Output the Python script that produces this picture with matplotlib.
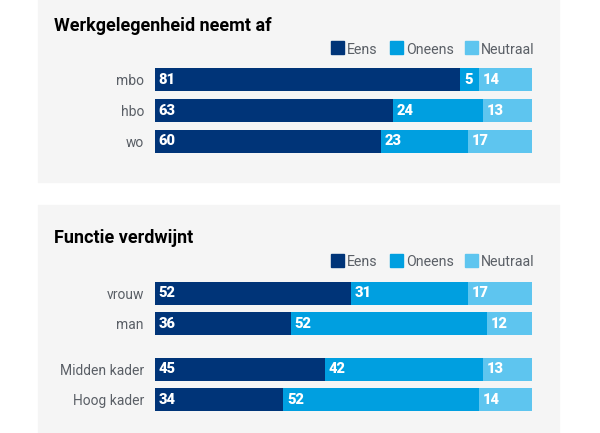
import matplotlib
matplotlib.use("Agg")

import matplotlib.pyplot as plt
from matplotlib.patches import Rectangle

plt.rcParams["font.family"] = ["Roboto", "DejaVu Sans"]

# data
series = ["Eens", "Oneens", "Neutraal"]
colors = ["#003478", "#009fe0", "#5ec5ef"]

werk_labels = ["mbo", "hbo", "wo"]
werk_eens = [81, 63, 60]
werk_oneens = [5, 24, 23]
werk_neutraal = [14, 13, 17]

functie_labels = ["vrouw", "man", "Midden kader", "Hoog kader"]
functie_pos = [0, 1, 2.5, 3.5]
functie_eens = [52, 36, 45, 34]
functie_oneens = [31, 52, 42, 52]
functie_neutraal = [17, 12, 13, 14]

W, H = 600, 433
BG = "#f5f5f5"
LABEL_COLOR = "#5a5f66"

fig = plt.figure(figsize=(W / 100, H / 100), dpi=100)


def fx(x):
    return x / W


def fy(y):
    return 1 - y / H


def panel(top, bottom):
    fig.patches.append(Rectangle((fx(38), fy(bottom)), fx(559) - fx(38), fy(top) - fy(bottom),
                                 transform=fig.transFigure, color=BG, zorder=-5))


def legend(y_top):
    xs = [331, 390, 465]
    for name, col, x in zip(series, colors, xs):
        fig.patches.append(Rectangle((fx(x), fy(y_top + 13)), 13 / W, 13 / H,
                                     transform=fig.transFigure, color=col, zorder=1))
        fig.text(fx(x + 16), fy(y_top + 12.5), name, fontsize=10.2, color=LABEL_COLOR,
                 va="baseline", ha="left")


def bars(ax, pos, labels, vals, height):
    left = [0] * len(pos)
    for v, col in zip(vals, colors):
        ax.barh(pos, v, left=left, height=height, color=col, edgecolor="none")
        for p, l, val in zip(pos, left, v):
            ax.text(l + 1.0, p, str(val), color="white", fontsize=10.5, fontweight=900,
                    va="center", ha="left")
        left = [a + b for a, b in zip(left, v)]
    ax.set_xlim(0, 100)
    ax.set_yticks(pos)
    ax.set_yticklabels(labels, fontsize=10, color=LABEL_COLOR)
    ax.tick_params(axis="y", length=0, pad=8)
    ax.set_xticks([])
    for s in ax.spines.values():
        s.set_visible(False)
    ax.patch.set_alpha(0)


# panel 1
panel(0, 182)
fig.text(fx(54), fy(31), "Werkgelegenheid neemt af", fontsize=13, fontweight="bold",
         color="black", va="baseline")
legend(41)
ax1 = fig.add_axes([fx(155), fy(153), fx(532) - fx(155), fy(68) - fy(153)])
bars(ax1, [0, 1, 2], werk_labels, [werk_eens, werk_oneens, werk_neutraal], 0.75)
ax1.set_ylim(2.375, -0.375)

# panel 2
panel(205, 433)
fig.text(fx(54), fy(243), "Functie verdwijnt", fontsize=13, fontweight="bold",
         color="black", va="baseline")
legend(254)
ax2 = fig.add_axes([fx(155), fy(411), fx(532) - fx(155), fy(282) - fy(411)])
bars(ax2, functie_pos, functie_labels, [functie_eens, functie_oneens, functie_neutraal], 0.75)
ax2.set_ylim(3.875, -0.375)

fig.savefig("out.png", dpi=100)
